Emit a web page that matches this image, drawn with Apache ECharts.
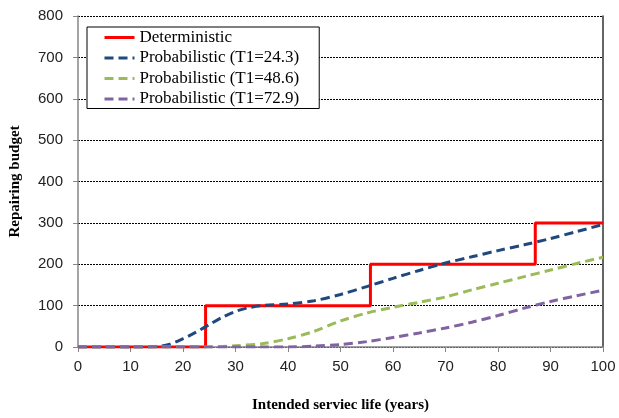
<!DOCTYPE html>
<html>
<head>
<meta charset="utf-8">
<script src="https://cdn.jsdelivr.net/npm/echarts@6/dist/echarts.min.js"></script>
<style>
html,body{margin:0;padding:0;background:#fff;}
#chart{width:619px;height:418px;}
</style>
</head>
<body>
<div id="chart"></div>
<script>
// Data
const seriesNames = ['Deterministic', 'Probabilistic (T1=24.3)', 'Probabilistic (T1=48.6)', 'Probabilistic (T1=72.9)'];
const stepX = [0, 24.3, 24.3, 55.7, 55.7, 87.1, 87.1, 100];
const stepY = [0, 0, 100, 100, 200, 200, 300, 300];

const blueX = [0, 5, 10, 15, 17.5, 20, 22.5, 25, 27.5, 30, 32.5, 35, 40, 45, 50, 55, 60, 65, 70, 75, 80, 85, 90, 95, 100];
const blueY = [0, 0, 0, 1, 7, 20, 36, 54, 72, 86, 95, 100, 104, 112, 127, 146, 166, 185, 203, 218, 233, 247, 262, 279, 296];

const greenX = [0, 5, 10, 15, 20, 25, 27.5, 30, 35, 40, 45, 50, 55, 60, 65, 70, 75, 80, 85, 90, 95, 100];
const greenY = [0, 0, 0, 0, 0, 0, 1, 3, 8, 20, 38, 63, 82, 96, 108, 121, 138, 154, 170, 186, 202, 217];

const purpleX = [0, 5, 10, 15, 20, 25, 30, 35, 40, 45, 50, 55, 60, 65, 70, 75, 80, 85, 90, 95, 100];
const purpleY = [0, 0, 0, 0, 0, 0, 0, 0, 0, 2, 6, 13, 23, 34, 46, 60, 76, 94, 110, 124, 137];

const xTicks = [0, 10, 20, 30, 40, 50, 60, 70, 80, 90, 100];
const yTicks = [0, 100, 200, 300, 400, 500, 600, 700, 800];

function pairs(xs, ys) { return xs.map((x, i) => [x, ys[i]]); }

const chart = echarts.init(document.getElementById('chart'), null, {renderer: 'canvas'});
const labelFont = {fontFamily: 'Liberation Sans, Arial, sans-serif', fontSize: 15, color: '#222'};
const nameFont = {fontFamily: 'Liberation Serif, Times New Roman, serif', fontSize: 15, fontWeight: 'bold', color: '#000'};

chart.setOption({
  animation: false,
  backgroundColor: '#fff',
  grid: {left: 78, right: 16, top: 16, bottom: 62, containLabel: false},
  legend: {
    orient: 'vertical',
    left: 87, top: 27,
    padding: [2, 20, 1, 16],
    itemWidth: 30, itemHeight: 14, itemGap: 3.5,
    backgroundColor: '#fff',
    borderColor: '#000', borderWidth: 1, borderRadius: 0,
    itemStyle: {opacity: 0},
    lineStyle: {width: 3},
    textStyle: {fontFamily: 'Liberation Serif, Times New Roman, serif', fontSize: 17, color: '#000', lineHeight: 17},
    data: seriesNames
  },
  xAxis: {
    type: 'value', min: xTicks[0], max: xTicks[xTicks.length - 1], interval: 10,
    name: 'Intended serviec life (years)', nameLocation: 'middle', nameGap: 51,
    nameTextStyle: nameFont,
    axisLine: {show: true, lineStyle: {color: '#868686', width: 1.5}},
    axisTick: {show: true, inside: false, length: 5, lineStyle: {color: '#868686'}},
    axisLabel: Object.assign({margin: 12}, labelFont),
    splitLine: {show: false}
  },
  yAxis: [{
    type: 'value', min: yTicks[0], max: yTicks[yTicks.length - 1], interval: 100,
    name: 'Repairing budget', nameLocation: 'middle', nameGap: 55,
    nameTextStyle: nameFont,
    axisLine: {show: true, lineStyle: {color: '#868686', width: 1.5}},
    axisTick: {show: true, inside: false, length: 5, lineStyle: {color: '#868686'}},
    axisLabel: Object.assign({margin: 15}, labelFont),
    splitLine: {show: true, lineStyle: {color: '#000', type: [2, 1], width: 1}}
  }, {
    type: 'value', position: 'right', min: 0, max: 800, interval: 100,
    axisLine: {show: true, lineStyle: {color: '#333', width: 1.5}},
    axisTick: {show: false}, axisLabel: {show: false}, splitLine: {show: false}
  }],
  series: [
    {
      name: seriesNames[0], type: 'line', data: pairs(stepX, stepY),
      symbol: 'none', color: '#FF0000',
      lineStyle: {color: '#FF0000', width: 3, type: 'solid'}, z: 2
    },
    {
      name: seriesNames[1], type: 'line', data: pairs(blueX, blueY),
      symbol: 'none', smooth: 0.3, color: '#1F497D',
      lineStyle: {color: '#1F497D', width: 3, type: [9, 5]}, z: 3
    },
    {
      name: seriesNames[2], type: 'line', data: pairs(greenX, greenY),
      symbol: 'none', smooth: 0.3, color: '#9BBB59',
      lineStyle: {color: '#9BBB59', width: 3, type: [9, 5]}, z: 3
    },
    {
      name: seriesNames[3], type: 'line', data: pairs(purpleX, purpleY),
      symbol: 'none', smooth: 0.3, color: '#8064A2',
      lineStyle: {color: '#8064A2', width: 3, type: [9, 5]}, z: 3
    }
  ]
});
</script>
</body>
</html>
